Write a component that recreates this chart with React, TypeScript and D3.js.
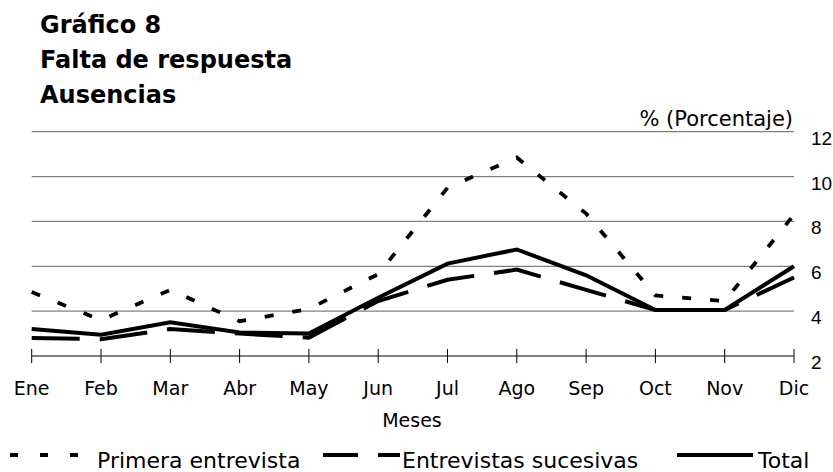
import React, { useEffect, useRef } from 'react';
import * as d3 from 'd3';

const months = ['Ene', 'Feb', 'Mar', 'Abr', 'May', 'Jun', 'Jul', 'Ago', 'Sep', 'Oct', 'Nov', 'Dic'];
const primera = [4.85, 3.6, 4.95, 3.55, 4.1, 5.65, 9.5, 10.85, 8.35, 4.7, 4.45, 8.3];
const sucesivas = [2.8, 2.75, 3.2, 3.0, 2.82, 4.45, 5.4, 5.85, 4.95, 4.05, 4.05, 5.5];
const total = [3.2, 2.95, 3.5, 3.05, 3.0, 4.6, 6.12, 6.75, 5.6, 4.05, 4.05, 6.0];
const yTicks = [2, 4, 6, 8, 10, 12];
const titles = ['Gráfico 8', 'Falta de respuesta', 'Ausencias'];

const FONT = '"DejaVu Sans", sans-serif';

const App: React.FC = () => {
    const svgRef = useRef<SVGSVGElement>(null);

    useEffect(() => {
        d3.select(svgRef.current).selectAll('*').remove();

        const width = 833;
        const height = 472;

        const svg = d3.select(svgRef.current)
            .attr('width', width)
            .attr('height', height)
            .style('background', '#fff')
            .style('font-family', FONT);

        const x = d3.scalePoint<string>()
            .domain(months)
            .range([31.7, 794]);

        const y = d3.scaleLinear()
            .domain([2, 12])
            .range([356, 131.7]);

        // Title
        svg.append('g')
            .selectAll('text')
            .data(titles)
            .join('text')
            .attr('x', 40)
            .attr('y', (_, i) => 33 + i * 35)
            .style('font-size', '24px')
            .style('font-weight', 'bold')
            .text(d => d);

        // Gridlines
        svg.append('g')
            .selectAll('line')
            .data(yTicks.filter(t => t > 2))
            .join('line')
            .attr('x1', 31.7)
            .attr('x2', 794)
            .attr('y1', d => y(d))
            .attr('y2', d => y(d))
            .attr('stroke', '#808080')
            .attr('stroke-width', 1.3);

        // Y labels (right side)
        svg.append('g')
            .selectAll('text')
            .data(yTicks)
            .join('text')
            .attr('x', 811)
            .attr('y', d => y(d) + 13)
            .style('font-family', '"Liberation Sans", sans-serif')
            .style('font-size', '19px')
            .text(d => d);

        svg.append('text')
            .attr('x', 793)
            .attr('y', 126)
            .attr('text-anchor', 'end')
            .style('font-size', '21px')
            .text('% (Porcentaje)');

        // X axis
        const xAxis = svg.append('g').attr('transform', `translate(0,${y(2)})`);
        xAxis.append('line')
            .attr('x1', 31.7)
            .attr('x2', 794)
            .attr('stroke', '#000')
            .attr('stroke-width', 1);
        xAxis.selectAll('line.tick')
            .data(months)
            .join('line')
            .attr('class', 'tick')
            .attr('x1', d => x(d) as number)
            .attr('x2', d => x(d) as number)
            .attr('y1', -7)
            .attr('y2', 7)
            .attr('stroke', '#000')
            .attr('stroke-width', 1);
        xAxis.selectAll('text')
            .data(months)
            .join('text')
            .attr('x', d => x(d) as number)
            .attr('y', 39)
            .attr('text-anchor', 'middle')
            .style('font-size', '19px')
            .text(d => d);

        svg.append('text')
            .attr('x', 412)
            .attr('y', 427)
            .attr('text-anchor', 'middle')
            .style('font-size', '19px')
            .text('Meses');

        // Lines
        const series = [
            { name: 'Primera entrevista', values: primera, dash: '9,19', width: 3.8 },
            { name: 'Entrevistas sucesivas', values: sucesivas, dash: '48,20', width: 4 },
            { name: 'Total', values: total, dash: null, width: 4 },
        ];

        const line = d3.line<number>()
            .x((_, i) => x(months[i]) as number)
            .y(d => y(d));

        series.forEach(s => {
            svg.append('path')
                .datum(s.values)
                .attr('fill', 'none')
                .attr('stroke', '#000')
                .attr('stroke-width', s.width)
                .attr('stroke-dasharray', s.dash)
                .attr('d', line);
        });

        // Legend
        const legend = [
            { x1: 10, x2: 78, tx: 97, dash: '8,22' },
            { x1: 323, x2: 400, tx: 402, dash: '35,20' },
            { x1: 677, x2: 753, tx: 758, dash: null },
        ];
        legend.forEach((l, i) => {
            svg.append('line')
                .attr('x1', l.x1)
                .attr('x2', l.x2)
                .attr('y1', 455)
                .attr('y2', 455)
                .attr('stroke', '#000')
                .attr('stroke-width', 4)
                .attr('stroke-dasharray', l.dash);
            svg.append('text')
                .attr('x', l.tx)
                .attr('y', 468)
                .style('font-size', '22px')
                .text(series[i].name);
        });
    }, []);

    return <svg ref={svgRef} style={{ position: 'absolute', left: 0, top: 0 }}></svg>;
};

export default App;
